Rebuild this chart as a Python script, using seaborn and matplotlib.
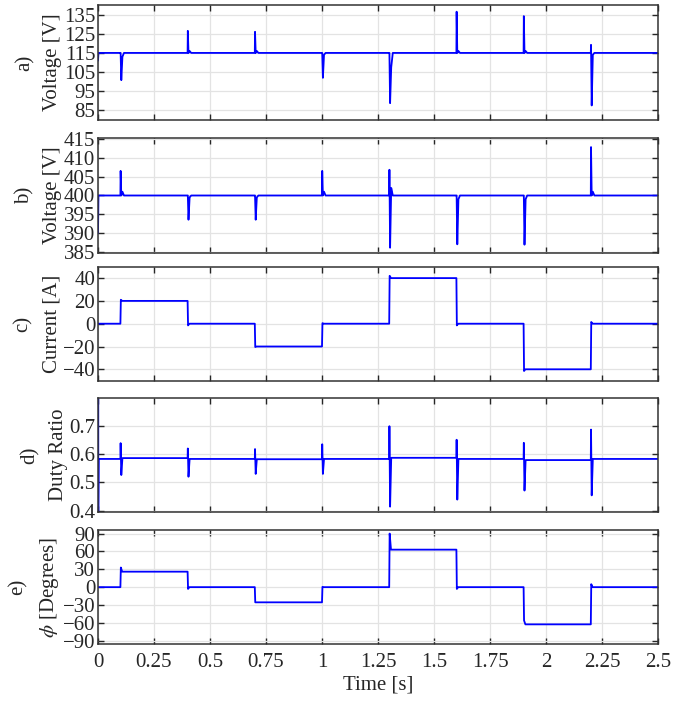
import numpy as np
import pandas as pd
import matplotlib
matplotlib.use("Agg")
import matplotlib.pyplot as plt
import seaborn as sns

# ---------------- data ----------------
EVENT_T = [0.1, 0.4, 0.7, 1.0, 1.3, 1.6, 1.9, 2.2]

# a) output voltage: base 115 V, peak / trough at each event
VA_BASE = 115.0
VA_PEAK = [115.0, 126.5, 126.0, 115.0, 115.0, 136.5, 134.2, 119.2]
VA_TROUGH = [100.8, 115.0, 115.0, 102.0, 88.8, 115.0, 115.0, 87.6]
VA_SHOULDER = [113.0, 116.0, 116.0, 114.0, 107.5, 116.0, 116.0, 114.0]
VA_START = [111.0, 115.0]

# b) dc-link voltage: base 400 V
VB_BASE = 400.0
VB_PEAK = [406.5, 400.0, 400.0, 406.5, 406.8, 400.0, 400.0, 412.8]
VB_TROUGH = [400.0, 393.6, 393.6, 400.0, 386.2, 387.1, 387.0, 400.0]
VB_SHOULDER = [401.0, 399.5, 399.5, 401.0, 402.0, 399.0, 399.0, 401.0]
VB_START = [390.0, 400.0]

# c) current: level after each event and overshoot
I_LEVELS = [0.0, 20.0, 0.0, -20.0, 0.0, 40.0, 0.0, -40.0, 0.0]
I_OVER = [21.0, -1.5, -20.5, 0.5, 42.0, -1.5, -41.5, 1.5]

# d) duty ratio
D_LEVELS = [0.583, 0.586, 0.583, 0.582, 0.583, 0.587, 0.583, 0.579, 0.583]
D_PEAK = [0.639, 0.620, 0.618, 0.635, 0.699, 0.651, 0.640, 0.687]
D_TROUGH = [0.526, 0.520, 0.530, 0.530, 0.414, 0.439, 0.471, 0.454]
D_START = [0.85, 0.38, 0.85, 0.38, 0.583]

# e) phase shift
P_LEVELS = [0.0, 26.0, 0.0, -25.5, 0.0, 63.0, 0.0, -62.5, 0.0]
P_OVER = [33.0, -3.0, -25.5, 0.5, 90.0, -3.0, -56.0, 5.0]

T_END = 2.5


def spikes(base, peak, trough, shoulder, start):
    t = [0.0, 0.002]
    v = list(start)
    for e, pk, tr, sh in zip(EVENT_T, peak, trough, shoulder):
        t += [e, e + 0.001, e + 0.004, e + 0.009, e + 0.016]
        v += [base, pk, tr, sh, base]
    t.append(T_END)
    v.append(base)
    return t, v


def steps(levels, over):
    t, v = [0.0], [levels[0]]
    for i, e in enumerate(EVENT_T):
        t += [e, e + 0.002, e + 0.008]
        v += [levels[i], over[i], levels[i + 1]]
    t.append(T_END)
    v.append(levels[-1])
    return t, v


def duty():
    t = [0.0, 0.0004, 0.0008, 0.0012, 0.003]
    v = list(D_START)
    for i, e in enumerate(EVENT_T):
        t += [e, e + 0.001, e + 0.004, e + 0.009]
        v += [D_LEVELS[i], D_PEAK[i], D_TROUGH[i], D_LEVELS[i + 1]]
    t.append(T_END)
    v.append(D_LEVELS[-1])
    return t, v


series = [
    spikes(VA_BASE, VA_PEAK, VA_TROUGH, VA_SHOULDER, VA_START),
    spikes(VB_BASE, VB_PEAK, VB_TROUGH, VB_SHOULDER, VB_START),
    steps(I_LEVELS, I_OVER),
    duty(),
    steps(P_LEVELS, P_OVER),
]

YLABELS = ["a)\nVoltage [V]", "b)\nVoltage [V]", "c)\nCurrent [A]",
           "d)\nDuty Ratio", "e)\n$\\phi$ [Degrees]"]
YLIMS = [(80, 140), (384.8, 415.2), (-50, 50), (0.395, 0.80), (-96, 96)]
YTICKS = [list(range(85, 136, 10)), list(range(385, 416, 5)),
          [-40, -20, 0, 20, 40], [0.4, 0.5, 0.6, 0.7],
          list(range(-90, 91, 30))]
XTICKS = [0, 0.25, 0.5, 0.75, 1, 1.25, 1.5, 1.75, 2, 2.25, 2.5]
XTICKLABELS = ["0", "0.25", "0.5", "0.75", "1", "1.25", "1.5", "1.75", "2", "2.25", "2.5"]

# ---------------- styling ----------------
sns.set_theme(style="whitegrid")
plt.rcParams["font.family"] = ["Liberation Serif", "DejaVu Serif"]
plt.rcParams["mathtext.fontset"] = "stix"
plt.rcParams["axes.edgecolor"] = "#262626"
plt.rcParams["grid.color"] = "#e3e3e3"

FS = 15
fig = plt.figure(figsize=(6.94, 7.04), dpi=100)

# panel extents in pixels (top, bottom)
PANELS_PX = [(5, 120), (138, 253), (266.7, 380.7), (397.7, 512), (530, 644.3)]
L, R = 98 / 694, 658 / 694

for k, ((top, bot), (t, v)) in enumerate(zip(PANELS_PX, series)):
    ax = fig.add_axes([L, 1 - bot / 704, R - L, (bot - top) / 704])
    df = pd.DataFrame({"t": t, "v": v})
    sns.lineplot(data=df, x="t", y="v", ax=ax, color="#0000ff",
                 linewidth=1.3, estimator=None, sort=False)
    ax.set_xlim(0, T_END)
    ax.set_ylim(*YLIMS[k])
    ax.set_yticks(YTICKS[k])
    if k == 3:
        ax.set_yticklabels(["0.4", "0.5", "0.6", "0.7"])
    ax.set_xticks(XTICKS)
    if k == 4:
        ax.set_xticklabels(XTICKLABELS)
        ax.set_xlabel("Time [s]", fontsize=FS, color="#262626", labelpad=3)
    else:
        ax.set_xticklabels([])
        ax.set_xlabel("")
    ax.set_ylabel(YLABELS[k], fontsize=FS, color="#262626",
                  linespacing=1.65, labelpad=1)
    ax.grid(True, color="#e3e3e3", linewidth=0.9)
    ax.tick_params(axis="both", which="both", direction="in", length=4,
                   width=1, colors="#262626", labelsize=FS,
                   top=True, right=True, bottom=True, left=True)
    ax.tick_params(axis="y", pad=2)
    ax.tick_params(axis="x", pad=6)
    for s in ax.spines.values():
        s.set_color("#333333")
        s.set_linewidth(1.1)

fig.savefig("out.png", dpi=100)
